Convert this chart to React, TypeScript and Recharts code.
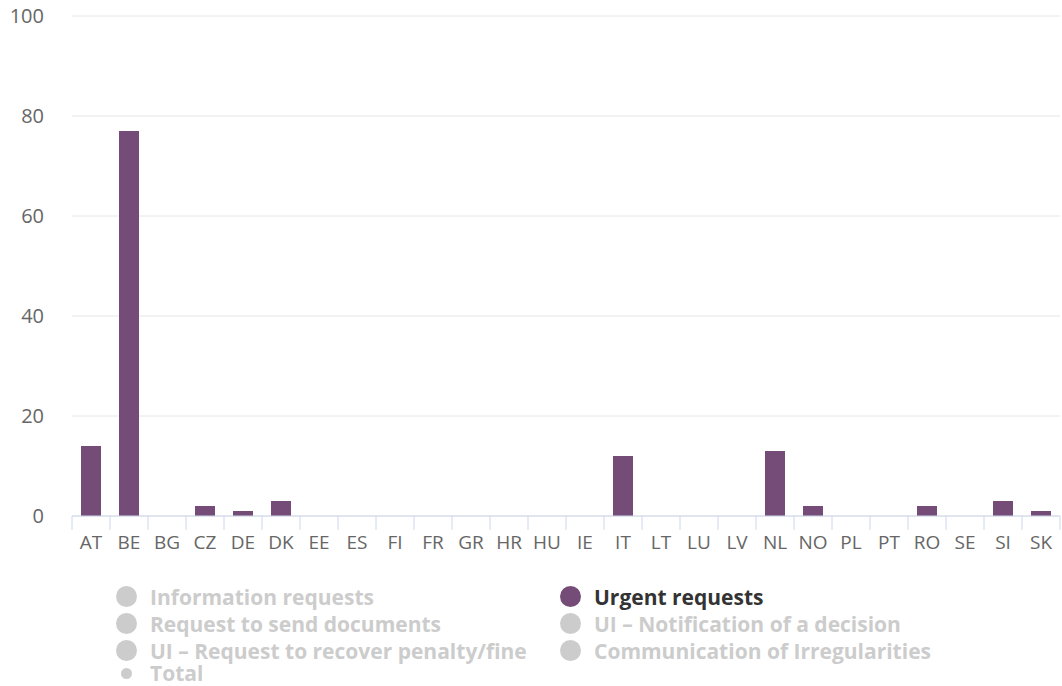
import { BarChart, Bar, XAxis, YAxis, CartesianGrid } from 'recharts';

// ---- data ----
const countries = ['AT', 'BE', 'BG', 'CZ', 'DE', 'DK', 'EE', 'ES', 'FI', 'FR', 'GR', 'HR', 'HU', 'IE', 'IT', 'LT', 'LU', 'LV', 'NL', 'NO', 'PL', 'PT', 'RO', 'SE', 'SI', 'SK'];
const urgentRequests = [14, 77, 0, 2, 1, 3, 0, 0, 0, 0, 0, 0, 0, 0, 12, 0, 0, 0, 13, 2, 0, 0, 2, 0, 3, 1];
const yTicks = [0, 20, 40, 60, 80, 100];

// legend columns; only "Urgent requests" is switched on, "Total" uses the small marker
const legendLeft = ['Information requests', 'Request to send documents', 'UI – Request to recover penalty/fine', 'Total'];
const legendRight = ['Urgent requests', 'UI – Notification of a decision', 'Communication of Irregularities'];
const activeSeries = 'Urgent requests';

const data = countries.map((c, i) => ({ country: c, urgent: urgentRequests[i] }));

const W = 1062;
const PLOT_LEFT = 72;
const PLOT_RIGHT_MARGIN = 2;
const BAND = (W - PLOT_LEFT - PLOT_RIGHT_MARGIN) / countries.length;
const PURPLE = '#754c78';
const AXIS_FONT = "'Open Sans', sans-serif";

function CountryTick(props: any) {
  const { x, y, payload, index } = props;
  const half = BAND / 2;
  return (
    <g>
      <line x1={x - half} x2={x - half} y1={y} y2={y + 14} stroke='#ccd6eb' />
      {index === countries.length - 1 && <line x1={x + half} x2={x + half} y1={y} y2={y + 14} stroke='#ccd6eb' />}
      <text x={x} y={y + 33} textAnchor='middle' fill='#666666' fontSize={19} fontFamily={AXIS_FONT}>
        {payload.value}
      </text>
    </g>
  );
}

function LegendItem({ name, small }: { name: string; small?: boolean }) {
  const on = name === activeSeries;
  return (
    <div style={{ display: 'flex', alignItems: 'center', height: small ? 16 : 27 }}>
      <div style={{ width: 22, display: 'flex', justifyContent: 'center' }}>
        <span
          style={{
            display: 'inline-block',
            width: small ? 11 : 21,
            height: small ? 11 : 21,
            marginTop: small ? 0 : -2,
            borderRadius: '50%',
            background: on ? PURPLE : '#cccccc',
          }}
        />
      </div>
      <span style={{ marginLeft: 13, color: on ? '#333333' : '#cccccc', fontWeight: 700, fontSize: 21, lineHeight: '25px', whiteSpace: 'nowrap' }}>
        {name}
      </span>
    </div>
  );
}

export default function App() {
  return (
    <div style={{ position: 'absolute', left: 0, top: 0, width: W, height: 686, background: '#fff', fontFamily: AXIS_FONT }}>
      <BarChart width={W} height={560} data={data} margin={{ top: 16, right: PLOT_RIGHT_MARGIN, left: 0, bottom: 0 }}>
        <CartesianGrid vertical={false} stroke='#e6e6e6' />
        <XAxis
          dataKey='country'
          height={44}
          interval={0}
          tickSize={0}
          tickMargin={0}
          axisLine={{ stroke: '#ccd6eb' }}
          tickLine={false}
          tick={<CountryTick />}
        />
        <YAxis
          width={PLOT_LEFT}
          domain={[0, 100]}
          ticks={yTicks}
          axisLine={false}
          tickLine={false}
          tickSize={0}
          tickMargin={28}
          tick={{ fill: '#666666', fontSize: 20, fontFamily: AXIS_FONT }}
        />
        <Bar dataKey='urgent' name='Urgent requests' fill={PURPLE} barSize={20} isAnimationActive={false} />
      </BarChart>
      <div style={{ position: 'absolute', top: 584, left: 115, display: 'flex' }}>
        <div style={{ width: 444 }}>
          {legendLeft.map((n) => (
            <LegendItem key={n} name={n} small={n === 'Total'} />
          ))}
        </div>
        <div>
          {legendRight.map((n) => (
            <LegendItem key={n} name={n} />
          ))}
        </div>
      </div>
    </div>
  );
}
